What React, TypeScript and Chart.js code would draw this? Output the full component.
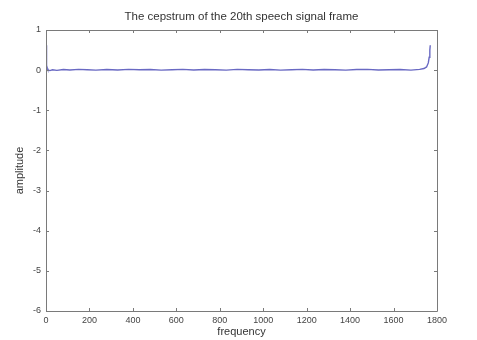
import { useEffect, useRef } from 'react';
import { Chart, registerables } from 'chart.js';

Chart.register(...registerables);

const TITLE = 'The cepstrum of the 20th speech signal frame';
const X_LABEL = 'frequency';
const Y_LABEL = 'amplitude';
const X_TICKS = [0, 200, 400, 600, 800, 1000, 1200, 1400, 1600, 1800];
const Y_TICKS = [1, 0, -1, -2, -3, -4, -5, -6];

const frequency = [
  0, 1, 2, 3, 4, 6, 8, 12, 18, 30,
  50, 80, 110, 150, 190, 230, 280, 330, 380, 430,
  480, 530, 580, 630, 680, 730, 780, 830, 880, 930,
  980, 1030, 1080, 1130, 1180, 1230, 1280, 1330, 1380, 1430,
  1480, 1530, 1580, 1630, 1680, 1720, 1740, 1752, 1760, 1764,
  1767, 1769,
];
const amplitude = [
  0.62, 0.5, 0.35, 0.22, 0.12, 0.05, 0.02, 0.0, -0.01, 0.01,
  -0.005, 0.015, 0.005, 0.02, 0.01, 0.0, 0.015, 0.005, 0.02, 0.01,
  0.015, 0.0, 0.01, 0.02, 0.005, 0.015, 0.01, 0.0, 0.02, 0.01,
  0.005, 0.015, 0.0, 0.01, 0.02, 0.005, 0.015, 0.01, 0.0, 0.015,
  0.02, 0.005, 0.01, 0.015, 0.0, 0.02, 0.04, 0.08, 0.18, 0.32,
  0.5, 0.62,
];

const FONT = 'Arial, "Liberation Sans", Helvetica, sans-serif';

const framePlugin = {
  id: 'matlabFrame',
  afterDraw(chart: any) {
    const { ctx, chartArea } = chart;
    const { left, right, top, bottom } = chartArea;
    const xs = chart.scales.x;
    const ys = chart.scales.y;
    ctx.save();
    ctx.strokeStyle = '#7a7a7a';
    ctx.lineWidth = 1;
    ctx.beginPath();
    ctx.rect(Math.round(left) + 0.5, Math.round(top) + 0.5, Math.round(right - left), Math.round(bottom - top));
    ctx.stroke();
    const tl = 3;
    ctx.beginPath();
    X_TICKS.forEach((v) => {
      const px = Math.round(xs.getPixelForValue(v)) + 0.5;
      ctx.moveTo(px, bottom);
      ctx.lineTo(px, bottom - tl);
      ctx.moveTo(px, top);
      ctx.lineTo(px, top + tl);
    });
    Y_TICKS.forEach((v) => {
      const py = Math.round(ys.getPixelForValue(v)) + 0.5;
      ctx.moveTo(left, py);
      ctx.lineTo(left + tl, py);
      ctx.moveTo(right, py);
      ctx.lineTo(right - tl, py);
    });
    ctx.stroke();
    ctx.fillStyle = '#333';
    ctx.font = `11.5px ${FONT}`;
    ctx.textAlign = 'center';
    ctx.textBaseline = 'middle';
    ctx.fillText(TITLE, (left + right) / 2, 17);
    ctx.restore();
  },
};

export default function App() {
  const ref = useRef<HTMLCanvasElement | null>(null);
  useEffect(() => {
    if (!ref.current) return;
    const chart = new Chart(ref.current, {
      type: 'line',
      data: {
        datasets: [
          {
            data: frequency.map((f, i) => ({ x: f, y: amplitude[i] })),
            borderColor: 'rgb(105,105,195)',
            borderWidth: 1.4,
            pointRadius: 0,
            tension: 0,
            fill: false,
          },
        ],
      },
      options: {
        animation: false,
        responsive: false,
        devicePixelRatio: 1,
        layout: { padding: { top: 30, right: 40, left: 0, bottom: 0 } },
        plugins: { legend: { display: false }, tooltip: { enabled: false }, title: { display: false } },
        scales: {
          x: {
            type: 'linear',
            min: 0,
            max: 1800,
            afterBuildTicks: (s: any) => {
              s.ticks = X_TICKS.map((v) => ({ value: v }));
            },
            afterFit: (s: any) => {
              s.height = 29;
            },
            grid: { display: false, drawTicks: false },
            border: { display: false },
            ticks: {
              color: '#444',
              font: { size: 9, family: FONT },
              padding: 4,
              maxRotation: 0,
              autoSkip: false,
              callback: (v: any) => String(v),
            },
            title: { display: true, text: X_LABEL, color: '#333', font: { size: 11, family: FONT }, padding: { top: 0, bottom: 1 } },
          },
          y: {
            type: 'linear',
            min: -6,
            max: 1,
            afterBuildTicks: (s: any) => {
              s.ticks = Y_TICKS.map((v) => ({ value: v }));
            },
            afterFit: (s: any) => {
              s.width = 46;
            },
            grid: { display: false, drawTicks: false },
            border: { display: false },
            ticks: { color: '#444', font: { size: 9, family: FONT }, padding: 5, autoSkip: false, callback: (v: any) => String(v) },
            title: { display: true, text: Y_LABEL, color: '#333', font: { size: 11, family: FONT }, padding: { top: 13, bottom: 0 } },
          },
        },
      },
      plugins: [framePlugin],
    });
    return () => chart.destroy();
  }, []);
  return (
    <div style={{ position: 'absolute', left: 0, top: 0, width: 477, height: 340, background: '#fff' }}>
      <canvas ref={ref} width={477} height={340} />
    </div>
  );
}
